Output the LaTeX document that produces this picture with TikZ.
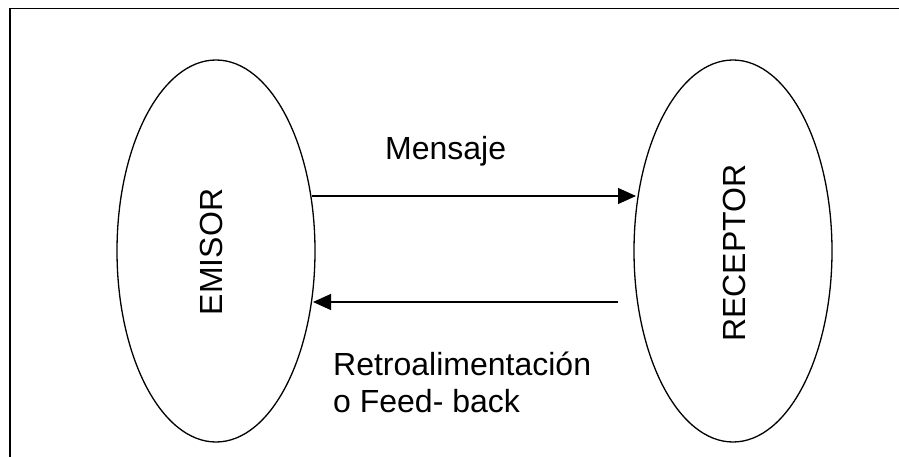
\documentclass[tikz,border=0pt]{standalone}
\usepackage{fontspec}
\setmainfont{Liberation Sans}
\usetikzlibrary{shapes.geometric,arrows.meta}
\begin{document}
\begin{tikzpicture}[x=1pt,y=-1pt,
  oval/.style={draw,ellipse,line width=1.3pt,minimum width=198pt,minimum height=382pt,inner sep=0pt},
  lbl/.style={font=\fontsize{32pt}{37pt}\selectfont,inner sep=0pt},
  arr/.style={line width=1.1pt,-{Triangle[length=18pt,width=16pt]}}]
\useasboundingbox (0,0) rectangle (899,457);
\draw[line width=1.5pt] (10,457) -- (10,8.5) -- (899,8.5);
\node[oval] (em) at (216,251) {};
\node[oval] (rec) at (733,251) {};
\node[lbl,rotate=90,anchor=base] (emt) at (222,252) {EMISOR};
\node[lbl,rotate=90,anchor=base] (rect) at (745,253) {RECEPTOR};
\node[lbl,anchor=base west] (men) at (385,160) {Mensaje};
\node[lbl,anchor=base west,align=left] (ret) at (333,412) {Retroalimentación\\o Feed- back};
\coordinate (m1) at (312,196);
\coordinate (m2) at (636,196);
\coordinate (f1) at (618,302);
\coordinate (f2) at (313,302);
\draw[arr] (m1) -- (m2);
\draw[arr] (f1) -- (f2);
\end{tikzpicture}
\end{document}
